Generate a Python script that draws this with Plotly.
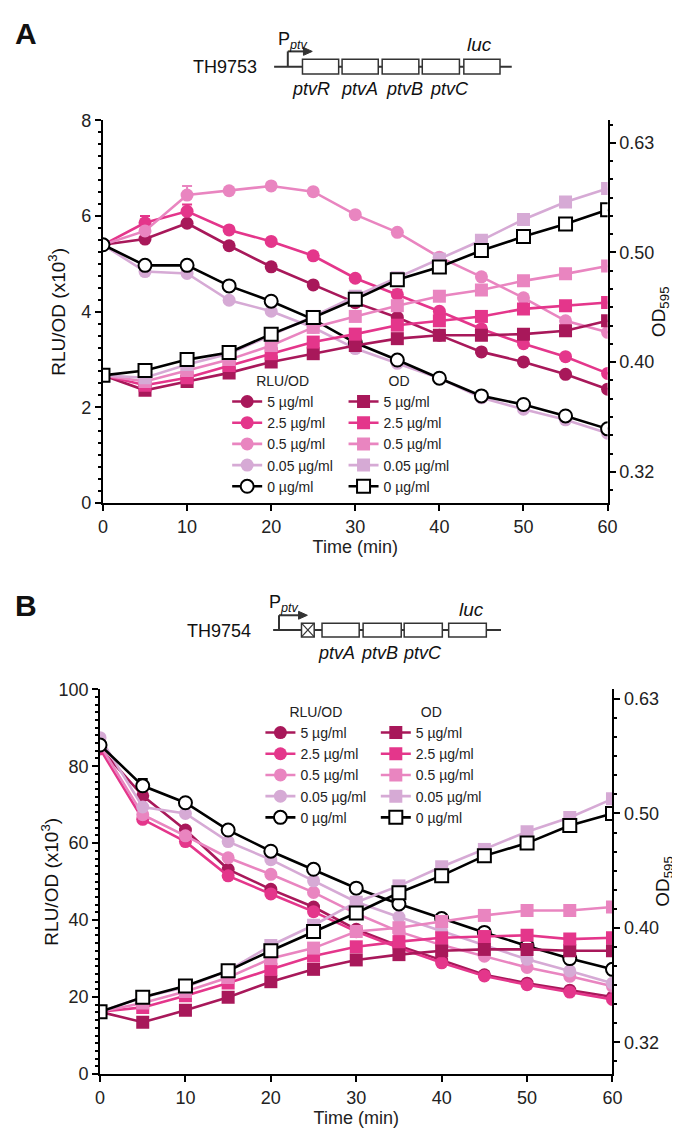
import plotly.graph_objects as go

# ---------------- data ----------------
time_min = [0, 5, 10, 15, 20, 25, 30, 35, 40, 45, 50, 55, 60]
conc_labels = ["5 µg/ml", "2.5 µg/ml", "0.5 µg/ml", "0.05 µg/ml", "0 µg/ml"]

# Panel A (TH9753) RLU/OD (x10^3)
a_rlu_5 = [5.40, 5.52, 5.85, 5.38, 4.94, 4.56, 4.19, 3.88, 3.51, 3.16, 2.95, 2.69, 2.38]
a_rlu_2_5 = [5.40, 5.86, 6.10, 5.71, 5.47, 5.17, 4.70, 4.36, 4.01, 3.64, 3.33, 3.06, 2.71]
a_rlu_0_5 = [5.40, 5.69, 6.44, 6.53, 6.63, 6.51, 6.03, 5.66, 5.14, 4.73, 4.29, 3.81, 3.57]
a_rlu_0_05 = [5.40, 4.84, 4.80, 4.24, 4.01, 3.67, 3.23, 2.92, 2.61, 2.20, 1.96, 1.74, 1.46]
a_rlu_0 = [5.40, 4.97, 4.97, 4.54, 4.22, 3.84, 3.35, 2.99, 2.61, 2.24, 2.06, 1.82, 1.55]
a_rlu_err_2_5 = [0, 0.14, 0.14, 0, 0, 0, 0, 0.10, 0, 0, 0, 0, 0]
a_rlu_err_0_5 = [0, 0, 0.19, 0, 0, 0, 0, 0, 0, 0, 0, 0, 0]

# Panel A OD595
a_od_5 = [0.386, 0.374, 0.381, 0.388, 0.397, 0.404, 0.411, 0.417, 0.420, 0.420, 0.421, 0.424, 0.433]
a_od_2_5 = [0.386, 0.378, 0.384, 0.394, 0.404, 0.414, 0.421, 0.429, 0.433, 0.437, 0.444, 0.447, 0.450]
a_od_0_5 = [0.386, 0.381, 0.390, 0.399, 0.411, 0.427, 0.437, 0.447, 0.456, 0.462, 0.471, 0.478, 0.486]
a_od_0_05 = [0.386, 0.384, 0.395, 0.404, 0.420, 0.437, 0.456, 0.474, 0.493, 0.513, 0.536, 0.556, 0.572]
a_od_0 = [0.386, 0.390, 0.399, 0.405, 0.421, 0.436, 0.453, 0.472, 0.485, 0.502, 0.517, 0.531, 0.547]

# Panel B (TH9754) RLU/OD (x10^3)
b_rlu_5 = [84.7, 72.3, 63.4, 53.2, 48.0, 43.4, 37.6, 33.3, 29.6, 25.8, 23.6, 21.8, 20.0]
b_rlu_2_5 = [84.5, 66.2, 60.4, 51.5, 46.8, 42.2, 37.0, 32.8, 28.9, 25.5, 23.2, 21.3, 19.4]
b_rlu_0_5 = [85.5, 67.4, 61.9, 56.2, 51.9, 47.2, 41.7, 37.0, 33.5, 30.6, 27.7, 25.4, 22.8]
b_rlu_0_05 = [87.4, 69.4, 67.7, 60.4, 55.7, 50.2, 44.7, 40.8, 37.2, 33.6, 29.8, 26.8, 23.6]
b_rlu_0 = [85.5, 74.9, 70.5, 63.4, 57.9, 53.2, 48.3, 44.2, 40.4, 36.8, 33.3, 30.0, 27.2]
b_rlu_err_0 = [0, 1.8, 0, 0, 0, 0, 0, 0, 0, 0, 0, 0, 0]

# Panel B OD595
b_od_5 = [0.335, 0.328, 0.336, 0.345, 0.356, 0.365, 0.372, 0.376, 0.379, 0.380, 0.380, 0.379, 0.379]
b_od_2_5 = [0.335, 0.338, 0.346, 0.355, 0.365, 0.375, 0.382, 0.386, 0.389, 0.390, 0.391, 0.388, 0.389]
b_od_0_5 = [0.335, 0.341, 0.349, 0.359, 0.373, 0.381, 0.394, 0.397, 0.402, 0.407, 0.411, 0.411, 0.414]
b_od_0_05 = [0.335, 0.345, 0.352, 0.364, 0.383, 0.399, 0.418, 0.432, 0.449, 0.465, 0.482, 0.496, 0.515]
b_od_0 = [0.335, 0.345, 0.353, 0.364, 0.379, 0.394, 0.409, 0.426, 0.441, 0.459, 0.471, 0.488, 0.500]

od_tickvals = [0.31498, 0.39685, 0.5, 0.62996]
od_ticktext = ["0.32", "0.40", "0.50", "0.63"]

# ---------------- style ----------------
W, H = 680, 1133
FONT = "Liberation Sans, Arial, sans-serif"
colors = ["#A8185A", "#E4368B", "#E985C0", "#D6AAD5", "#000000"]


def px(x):
    return x / W


def py(y):
    return 1 - y / H


fig = go.Figure()

panels = [
    dict(x="x", yl="y", yr="y2", lg1="legend", lg2="legend2",
         rlu=[a_rlu_5, a_rlu_2_5, a_rlu_0_5, a_rlu_0_05, a_rlu_0],
         err=[None, a_rlu_err_2_5, a_rlu_err_0_5, None, None],
         od=[a_od_5, a_od_2_5, a_od_0_5, a_od_0_05, a_od_0]),
    dict(x="x2", yl="y3", yr="y4", lg1="legend3", lg2="legend4",
         rlu=[b_rlu_5, b_rlu_2_5, b_rlu_0_5, b_rlu_0_05, b_rlu_0],
         err=[None, None, None, None, b_rlu_err_0],
         od=[b_od_5, b_od_2_5, b_od_0_5, b_od_0_05, b_od_0]),
]

MS = 13
for p in panels:
    for i, (vals, err) in enumerate(zip(p["rlu"], p["err"])):
        c = colors[i]
        open_m = (i == 4)
        marker = dict(symbol="circle", size=MS,
                      color="white" if open_m else c,
                      line=dict(color=c, width=2 if open_m else 0))
        kw = {}
        if err is not None:
            kw["error_y"] = dict(type="data", symmetric=False, array=err,
                                 arrayminus=[0] * len(err), color=c,
                                 thickness=2, width=5)
        fig.add_trace(go.Scatter(x=time_min, y=vals, mode="lines+markers",
                                 name=conc_labels[i], xaxis=p["x"], yaxis=p["yl"],
                                 line=dict(color=c, width=2.6), marker=marker,
                                 legend=p["lg1"], **kw))
    for i, vals in enumerate(p["od"]):
        c = colors[i]
        open_m = (i == 4)
        marker = dict(symbol="square", size=MS,
                      color="white" if open_m else c,
                      line=dict(color=c, width=2 if open_m else 0))
        fig.add_trace(go.Scatter(x=time_min, y=vals, mode="lines+markers",
                                 name=conc_labels[i], xaxis=p["x"], yaxis=p["yr"],
                                 line=dict(color=c, width=2.6), marker=marker,
                                 legend=p["lg2"]))

axis_common = dict(showline=True, linecolor="black", linewidth=2, ticks="outside",
                   tickwidth=2, ticklen=6, tickcolor="black", showgrid=False,
                   zeroline=False, tickfont=dict(size=18, color="#222"),
                   title_font=dict(size=18, color="#222"))

minor_log = [0.31498 * 2 ** (k / 18) for k in range(-1, 21) if k % 6 != 0]
minor_style = dict(ticklen=3, tickwidth=1.5, ticks="outside", tickcolor="black")


def xaxis_def(domain, anchor):
    return dict(axis_common, domain=domain, anchor=anchor, range=[0, 60],
                tickvals=[0, 10, 20, 30, 40, 50, 60],
                title=dict(text="Time (min)", standoff=0))


fig.update_layout(
    width=W, height=H, margin=dict(l=0, r=0, t=0, b=0),
    paper_bgcolor="white", plot_bgcolor="white",
    font=dict(family=FONT, color="#222"),
    xaxis=xaxis_def([px(92), px(608)], "y"),
    yaxis=dict(axis_common, domain=[py(493.7), py(104.3)], anchor="x",
               range=[0, 8], tickvals=[0, 2, 4, 6, 8],
               minor=dict(minor_style, dtick=0.25)),
    yaxis2=dict(axis_common, overlaying="y", side="right", anchor="x", type="log",
                range=[-0.53018, -0.18026], tickvals=od_tickvals, ticktext=od_ticktext,
                minor=dict(minor_style, tickmode="array", tickvals=minor_log)),
    xaxis2=xaxis_def([px(89), px(613)], "y3"),
    yaxis3=dict(axis_common, domain=[py(1075), py(683.3)], anchor="x2",
                range=[0, 100], tickvals=[0, 20, 40, 60, 80, 100],
                minor=dict(minor_style, dtick=2)),
    yaxis4=dict(axis_common, overlaying="y3", side="right", anchor="x2", type="log",
                range=[-0.52952, -0.19205], tickvals=od_tickvals, ticktext=od_ticktext,
                minor=dict(minor_style, tickmode="array", tickvals=minor_log)),
)

leg_common = dict(xanchor="left", yanchor="top", bgcolor="rgba(0,0,0,0)",
                  font=dict(size=14, color="#222"), itemwidth=30, tracegroupgap=0)
fig.update_layout(
    legend=dict(leg_common, x=px(219), y=py(356),
                title=dict(text="RLU/OD", side="top center", font=dict(size=14))),
    legend2=dict(leg_common, x=px(338), y=py(356),
                 title=dict(text="OD", side="top center", font=dict(size=14))),
    legend3=dict(leg_common, x=px(253), y=py(693),
                 title=dict(text="RLU/OD", side="top center", font=dict(size=14))),
    legend4=dict(leg_common, x=px(371), y=py(693),
                 title=dict(text="OD", side="top center", font=dict(size=14))),
)

# ---------------- gene diagrams & axis titles ----------------
shapes = []
annots = []
LC = "#333"


def line(x0, y0, x1, y1, w=2):
    shapes.append(dict(type="line", xref="paper", yref="paper", x0=px(x0), y0=py(y0),
                       x1=px(x1), y1=py(y1), line=dict(color=LC, width=w)))


def box(x0, y0, x1, y1):
    shapes.append(dict(type="rect", xref="paper", yref="paper", x0=px(x0), y0=py(y0),
                       x1=px(x1), y1=py(y1), line=dict(color=LC, width=1.5),
                       fillcolor="white"))


def arrowhead(xtip, y, L=9, h=4):
    path = "M {} {} L {} {} L {} {} Z".format(px(xtip), py(y), px(xtip - L), py(y - h),
                                            px(xtip - L), py(y + h))
    shapes.append(dict(type="path", xref="paper", yref="paper", path=path,
                       fillcolor=LC, line=dict(color=LC, width=1)))


def text(x, y, s, size=16, xanchor="center", italic=False, bold=False, angle=0):
    if italic:
        s = "<i>" + s + "</i>"
    if bold:
        s = "<b>" + s + "</b>"
    annots.append(dict(xref="paper", yref="paper", x=px(x), y=py(y), text=s,
                       showarrow=False, xanchor=xanchor, yanchor="middle",
                       textangle=angle,
                       font=dict(size=size, color="#111", family=FONT)))


# axis titles
text(45, 299, "RLU/OD (x10<sup>3</sup>)", size=19, angle=-90)
text(661, 299, "OD<sub>595</sub>", size=19, angle=-90)
text(38, 879, "RLU/OD (x10<sup>3</sup>)", size=19, angle=-90)
text(666, 879, "OD<sub>595</sub>", size=19, angle=-90)

# Panel A diagram
text(13, 16, "A", size=30, bold=True)
text(252, 50, "TH9753", size=18, xanchor="right")
line(267, 49.5, 510, 49.5)
line(281, 49.5, 281, 34)
line(281, 34, 298, 34)
arrowhead(306, 34)
text(269, 23, "P<sub><i>ptv</i></sub>", size=18, xanchor="left")
for x0, x1 in [(296, 333), (336.5, 373.5), (377.5, 415), (418.5, 456.5), (461, 498)]:
    box(x0, 42, x1, 57)
text(477, 27, "luc", size=19, italic=True)
for xc, g in [(305, "ptvR"), (354, "ptvA"), (400, "ptvB"), (446, "ptvC")]:
    text(xc, 72, g, size=18, italic=True)

# Panel B diagram
text(13, 598, "B", size=30, bold=True)
text(245, 624, "TH9754", size=18, xanchor="right")
line(266, 623, 499, 623)
line(272, 623, 272, 608)
line(272, 608, 292, 608)
arrowhead(301, 608)
text(260, 596, "P<sub><i>ptv</i></sub>", size=18, xanchor="left")
box(295, 616, 308, 630)
line(295, 616, 308, 630, w=1.2)
line(295, 630, 308, 616, w=1.2)
for x0, x1 in [(316, 354), (358, 397), (400, 439), (445.5, 484)]:
    box(x0, 616, x1, 630)
text(469, 602, "luc", size=19, italic=True)
for xc, g in [(331, "ptvA"), (375, "ptvB"), (419, "ptvC")]:
    text(xc, 646, g, size=18, italic=True)

fig.update_layout(shapes=shapes, annotations=annots)

fig.write_html("out.html")
